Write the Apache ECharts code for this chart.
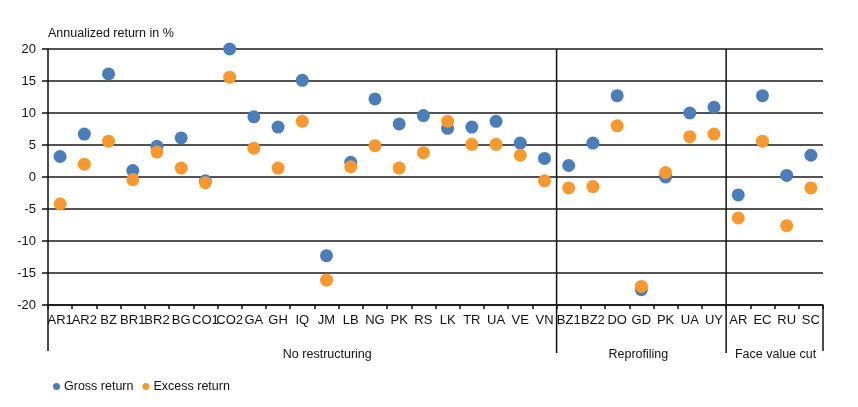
<!DOCTYPE html>
<html>
<head>
<meta charset="utf-8">
<script src="https://cdn.jsdelivr.net/npm/echarts@6/dist/echarts.min.js"></script>
<style>html,body{margin:0;padding:0;background:#fff}#c{width:858px;height:407px}</style>
</head>
<body>
<div id="c"></div>
<script>
var categories = ['AR1','AR2','BZ','BR1','BR2','BG','CO1','CO2','GA','GH','IQ','JM','LB','NG','PK','RS','LK','TR','UA','VE','VN',
                  'BZ1','BZ2','DO','GD','PK','UA','UY',
                  'AR','EC','RU','SC'];
var grossReturn = [3.2,6.7,16.1,1.0,4.8,6.1,-0.6,20.0,9.4,7.8,15.1,-12.3,2.3,12.2,8.3,9.6,7.6,7.8,8.7,5.3,2.9,
                   1.8,5.3,12.7,-17.6,0.0,10.0,10.9,
                   -2.8,12.7,0.25,3.4];
var excessReturn = [-4.2,2.0,5.6,-0.4,3.9,1.4,-0.9,15.6,4.5,1.4,8.7,-16.1,1.6,4.9,1.4,3.8,8.7,5.1,5.1,3.4,-0.6,
                    -1.7,-1.5,8.0,-17.1,0.7,6.3,6.7,
                    -6.4,5.6,-7.6,-1.7];
var groupNames = ['No restructuring','Reprofiling','Face value cut'];
var groupSizes = [21,7,4];
var yTicks = {min:-20, max:20, interval:5};

var FONT = 'Liberation Sans, Arial, sans-serif';
var chart = echarts.init(document.getElementById('c'), null, {renderer:'canvas'});
var option = {
  animation:false,
  textStyle:{fontFamily:FONT},
  grid:{left:48, right:35, top:49, bottom:102},
  legend:{
    left:48, top:375, itemWidth:7, itemHeight:7, itemGap:9, icon:'circle',
    textStyle:{fontSize:12.5, color:'#111', fontFamily:FONT, padding:[0,0,0,-1]},
    data:['Gross return','Excess return']
  },
  xAxis:{
    type:'category', data:categories, boundaryGap:true,
    axisLine:{onZero:false, lineStyle:{color:'#111', width:1.5}},
    axisTick:{show:true, interval:0, length:4, lineStyle:{color:'#111', width:1.5}},
    axisLabel:{interval:0, hideOverlap:false, margin:9, fontSize:13, color:'#111', fontFamily:FONT},
    splitLine:{show:false}
  },
  yAxis:{
    type:'value', min:yTicks.min, max:yTicks.max, interval:yTicks.interval,
    name:'Annualized return in %', nameLocation:'end', nameGap:9,
    nameTextStyle:{fontSize:12.5, color:'#111', align:'left', padding:[0,0,0,0], fontFamily:FONT},
    axisLine:{show:true, lineStyle:{color:'#111', width:1.5}},
    axisTick:{show:true, length:6, lineStyle:{color:'#111', width:1.5}},
    axisLabel:{fontSize:13, color:'#111', margin:12, fontFamily:FONT},
    splitLine:{show:true, lineStyle:{color:'#1a1a1a', width:1.5}}
  },
  series:[
    {name:'Gross return', type:'scatter', data:grossReturn, symbolSize:13,
     itemStyle:{color:'#4A7EBB', opacity:1}},
    {name:'Excess return', type:'scatter', data:excessReturn, symbolSize:13,
     itemStyle:{color:'#F9982F', opacity:1}}
  ]
};
chart.setOption(option);

function boundary(i){
  var n = categories.length;
  if (i <= 0) {
    var a = chart.convertToPixel({xAxisIndex:0}, 0), b = chart.convertToPixel({xAxisIndex:0}, 1);
    return a - (b - a)/2;
  }
  if (i >= n) {
    var a2 = chart.convertToPixel({xAxisIndex:0}, n-1), b2 = chart.convertToPixel({xAxisIndex:0}, n-2);
    return a2 + (a2 - b2)/2;
  }
  return (chart.convertToPixel({xAxisIndex:0}, i-1) + chart.convertToPixel({xAxisIndex:0}, i))/2;
}
var yTop = chart.convertToPixel({yAxisIndex:0}, yTicks.max);
var yBot = chart.convertToPixel({yAxisIndex:0}, yTicks.min);
var lineEnd = yBot + 46;
var els = [];
var start = 0;
var labelOffsets = [25, -3, 1];
for (var g=0; g<groupSizes.length; g++){
  var x0 = boundary(start), x1 = boundary(start + groupSizes[g]);
  els.push({type:'text', style:{text:groupNames[g], x:(x0+x1)/2 + labelOffsets[g], y:lineEnd + 4, textAlign:'center', textVerticalAlign:'middle', font:'12.5px ' + FONT, fill:'#111'}});
  start += groupSizes[g];
}
els.push({type:'line', shape:{x1:boundary(0), y1:yBot, x2:boundary(0), y2:lineEnd}, style:{stroke:'#111', lineWidth:1.5}});
var acc = 0;
for (var g2=0; g2<groupSizes.length-1; g2++){
  acc += groupSizes[g2];
  var xb = boundary(acc);
  els.push({type:'line', shape:{x1:xb, y1:yTop, x2:xb, y2:lineEnd + 2}, style:{stroke:'#111', lineWidth:1.5}});
}
var xr = boundary(categories.length);
els.push({type:'line', shape:{x1:xr, y1:yBot, x2:xr, y2:lineEnd}, style:{stroke:'#111', lineWidth:1.5}});
chart.setOption({graphic:{elements:els}});
</script>
</body>
</html>
